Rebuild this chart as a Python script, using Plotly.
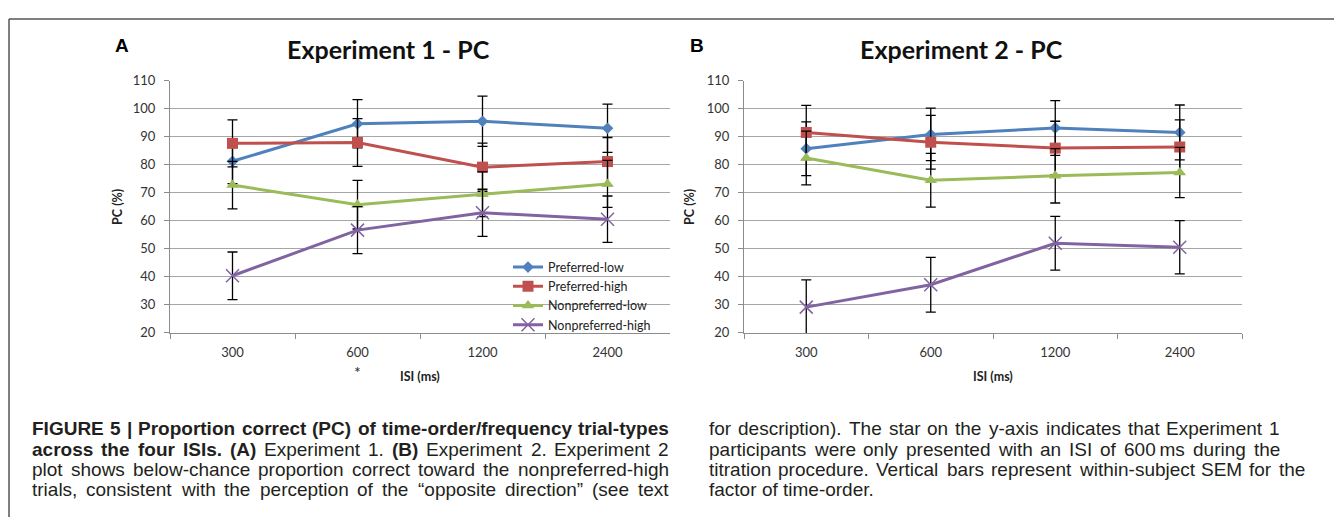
import plotly.graph_objects as go

isi = ["300", "600", "1200", "2400"]
series_names = ["Preferred-low", "Preferred-high", "Nonpreferred-low", "Nonpreferred-high"]

# Experiment 1
exp1_pref_low = [81.3, 94.7, 95.6, 93.1]
exp1_pref_high = [87.7, 88.0, 79.2, 81.2]
exp1_nonpref_low = [72.8, 65.8, 69.5, 73.2]
exp1_nonpref_high = [40.4, 56.7, 62.9, 60.6]
exp1_sem_pref_low = [8.0, 8.6, 9.0, 8.6]
exp1_sem_pref_high = [8.4, 8.5, 8.6, 8.6]
exp1_sem_nonpref_low = [8.5, 8.7, 8.0, 8.4]
exp1_sem_nonpref_high = [8.5, 8.4, 8.4, 8.3]

# Experiment 2
exp2_pref_low = [85.8, 90.9, 93.2, 91.6]
exp2_pref_high = [91.6, 88.1, 86.0, 86.4]
exp2_nonpref_low = [82.5, 74.5, 76.1, 77.3]
exp2_nonpref_high = [29.2, 37.2, 52.0, 50.6]
exp2_sem_pref_low = [9.6, 9.4, 9.8, 9.8]
exp2_sem_pref_high = [9.7, 9.6, 9.6, 9.7]
exp2_sem_nonpref_low = [9.6, 9.6, 9.7, 9.0]
exp2_sem_nonpref_high = [9.7, 9.8, 9.6, 9.5]

y_ticks = [20, 30, 40, 50, 60, 70, 80, 90, 100, 110]

colors = ["#4F81BD", "#C0504D", "#9BBB59", "#8064A2"]
symbols = ["diamond", "square", "triangle-up", "x-thin-open"]
msizes = [9, 11, 11, 13]

exp1 = [(exp1_pref_low, exp1_sem_pref_low), (exp1_pref_high, exp1_sem_pref_high),
        (exp1_nonpref_low, exp1_sem_nonpref_low), (exp1_nonpref_high, exp1_sem_nonpref_high)]
exp2 = [(exp2_pref_low, exp2_sem_pref_low), (exp2_pref_high, exp2_sem_pref_high),
        (exp2_nonpref_low, exp2_sem_nonpref_low), (exp2_nonpref_high, exp2_sem_nonpref_high)]

fig = go.Figure()
for panel, (data, xa, ya) in enumerate([(exp1, "x", "y"), (exp2, "x2", "y2")]):
    for i, (vals, sem) in enumerate(data):
        marker = dict(symbol=symbols[i], size=msizes[i], color=colors[i])
        if symbols[i].endswith("open"):
            marker["line"] = dict(color=colors[i], width=1.5)
        fig.add_trace(go.Scatter(
            x=isi, y=vals, name=series_names[i], mode="lines+markers",
            line=dict(color=colors[i], width=3), marker=marker,
            error_y=dict(type="data", array=sem, color="black", thickness=1.3, width=5),
            xaxis=xa, yaxis=ya, showlegend=(panel == 0),
        ))

# page body has an 8px margin: figure drawn inside it, coordinates given in window pixels
OFF = 8
W, H = 1342 - OFF, 525 - OFF
def px_x(p):
    return (p - OFF) / W
def px_y(p):
    return 1 - (p - OFF) / H

axis_font = dict(family="Lato, Open Sans, sans-serif", size=13, color="#333333")
xcommon = dict(type="category", categoryorder="array", categoryarray=isi, range=[-0.5, 3.5],
               showline=True, linecolor="#8c8c8c", linewidth=1, ticks="outside", ticklen=5,
               tickcolor="#8c8c8c", tickson="boundaries", showgrid=False, zeroline=False,
               tickfont=axis_font, ticklabelstandoff=8)
ycommon = dict(range=[20, 110], tickvals=y_ticks, showline=True, linecolor="#8c8c8c", linewidth=1,
               ticks="outside", ticklen=5, tickcolor="#8c8c8c", showgrid=True, gridcolor="#a6a6a6",
               gridwidth=1, zeroline=False, tickfont=axis_font, ticklabelstandoff=6)

ydom = [px_y(335), px_y(75)]
fig.update_layout(
    width=W, height=H, margin=dict(l=0, r=0, t=0, b=0),
    paper_bgcolor="white", plot_bgcolor="white",
    xaxis=dict(domain=[px_x(170), px_x(670)], anchor="y", **xcommon),
    yaxis=dict(domain=ydom, anchor="x", **ycommon),
    xaxis2=dict(domain=[px_x(744), px_x(1242)], anchor="y2", **xcommon),
    yaxis2=dict(domain=ydom, anchor="x2", **ycommon),
    showlegend=True,
    legend=dict(x=px_x(508), y=px_y(252), xanchor="left", yanchor="top",
                bgcolor="rgba(255,255,255,0)", tracegroupgap=0, itemwidth=30,
                font=dict(family="Lato, Open Sans, sans-serif", size=12.5, color="#222222")),
)

ann = []
title_font = dict(family="Lato, Open Sans, sans-serif", size=25, color="#111111", weight="bold")
ann.append(dict(text="Experiment 1 - PC", x=px_x(388), y=px_y(42), xref="paper", yref="paper",
                showarrow=False, font=title_font, xanchor="center", yanchor="middle"))
ann.append(dict(text="Experiment 2 - PC", x=px_x(961), y=px_y(42), xref="paper", yref="paper",
                showarrow=False, font=title_font, xanchor="center", yanchor="middle"))
lab_font = dict(family="Liberation Sans, Arial, sans-serif", size=19, color="black", weight="bold")
ann.append(dict(text="A", x=px_x(122), y=px_y(38), xref="paper", yref="paper", showarrow=False,
                font=lab_font, xanchor="center", yanchor="middle"))
ann.append(dict(text="B", x=px_x(697), y=px_y(38), xref="paper", yref="paper", showarrow=False,
                font=lab_font, xanchor="center", yanchor="middle"))
small_bold = dict(family="Lato, Open Sans, sans-serif", size=12.5, color="#222222", weight="bold")
for cx in (px_x(118), px_x(690)):
    ann.append(dict(text="PC (%)", x=cx, y=px_y(205), xref="paper", yref="paper", showarrow=False,
                    textangle=-90, font=small_bold, xanchor="center", yanchor="middle"))
for cx in (px_x(420), px_x(993)):
    ann.append(dict(text="ISI (ms)", x=cx, y=px_y(380), xref="paper", yref="paper", showarrow=False,
                    font=small_bold, xanchor="center", yanchor="middle"))
ann.append(dict(text="*", x=1, y=px_y(375), xref="x", yref="paper", showarrow=False,
                font=dict(family="Lato, sans-serif", size=16, color="#222222"),
                xanchor="center", yanchor="middle", borderpad=0))

# ---- caption (justified, placed word by word using Arial/Liberation Sans metrics) ----
REG = {' ': 278, '(': 333, ')': 333, ',': 278, '-': 333, '.': 278, '/': 278, '|': 260,
       '\u201c': 333, '\u201d': 333, '\u2009': 200}
REG.update({d: 556 for d in "0123456789"})
REG.update(dict(zip("ABCDEFGHIJKLMNOPQRSTUVWXYZ",
                    [667, 667, 722, 722, 667, 611, 778, 722, 278, 500, 667, 556, 833, 722, 778, 667,
                     778, 722, 667, 611, 722, 667, 944, 667, 667, 611])))
REG.update(dict(zip("abcdefghijklmnopqrstuvwxyz",
                    [556, 556, 500, 556, 556, 278, 556, 556, 222, 222, 500, 222, 833, 556, 556, 556,
                     556, 333, 500, 278, 556, 500, 722, 500, 500, 500])))
BOLD = dict(REG)
BOLD.update({'|': 280})
BOLD.update(dict(zip("ABCDEFGHIJKLMNOPQRSTUVWXYZ",
                     [722, 722, 722, 722, 667, 611, 778, 722, 278, 556, 722, 611, 833, 722, 778, 667,
                      778, 722, 667, 611, 722, 667, 944, 667, 667, 611])))
BOLD.update(dict(zip("abcdefghijklmnopqrstuvwxyz",
                     [556, 611, 556, 611, 556, 333, 611, 611, 278, 278, 556, 278, 889, 611, 611, 611,
                      611, 389, 556, 333, 611, 556, 778, 556, 556, 500])))

CAP_SIZE = 19
def wwidth(word, bold):
    tab = BOLD if bold else REG
    return sum(tab.get(c, 556) for c in word) * CAP_SIZE / 1000.0

def parse(line):
    # words marked bold with a leading '*'
    out = []
    for w in line.split(" "):
        if w.startswith("*"):
            out.append((w[1:], True))
        else:
            out.append((w, False))
    return out

left_lines = [
    "*FIGURE *5 *| *Proportion *correct *(PC) *of *time-order/frequency *trial-types",
    "*across *the *four *ISIs. *(A) Experiment 1. *(B) Experiment 2. Experiment 2",
    "plot shows below-chance proportion correct toward the nonpreferred-high",
    "trials, consistent with the perception of the \u201copposite direction\u201d (see text",
]
right_lines = [
    "for description). The star on the y-axis indicates that Experiment 1",
    "participants were only presented with an ISI of 600\u2009ms during the",
    "titration procedure. Vertical bars represent within-subject SEM for the",
    "factor of time-order.",
]
line_y = [434, 455, 476, 497]
left_x0, left_x1 = 31, 668
right_x0 = 708
right_x1 = [1279, 1279, 1304, None]

cap_reg = dict(family="Liberation Sans, Arial, sans-serif", size=CAP_SIZE, color="#231f20")
cap_bold = dict(family="Liberation Sans, Arial, sans-serif", size=CAP_SIZE, color="#231f20",
                weight="bold")

def place_line(words, x0, x1, yy):
    widths = [wwidth(w, b) for w, b in words]
    space = wwidth(" ", False)
    if x1 is None or len(words) < 2:
        gap = space
    else:
        gap = max(space * 0.8, (x1 - x0 - sum(widths)) / (len(words) - 1))
    x = x0
    for (w, b), wd in zip(words, widths):
        ann.append(dict(text=w, x=px_x(x), y=px_y(yy), xref="paper", yref="paper", showarrow=False,
                        font=cap_bold if b else cap_reg, xanchor="left", yanchor="middle",
                        borderpad=0))
        x += wd + gap

for txt, yy in zip(left_lines, line_y):
    place_line(parse(txt), left_x0, left_x1, yy)
for txt, yy, x1 in zip(right_lines, line_y, right_x1):
    place_line(parse(txt), right_x0, x1, yy)

fig.update_layout(annotations=ann)

fig.add_shape(type="line", xref="paper", yref="paper", x0=px_x(9), x1=1, y0=px_y(11), y1=px_y(11),
              line=dict(color="#555555", width=1.5))
fig.add_shape(type="line", xref="paper", yref="paper", x0=px_x(9), x1=px_x(9), y0=px_y(11), y1=0,
              line=dict(color="#555555", width=1.5))

fig.write_html("out.html")
